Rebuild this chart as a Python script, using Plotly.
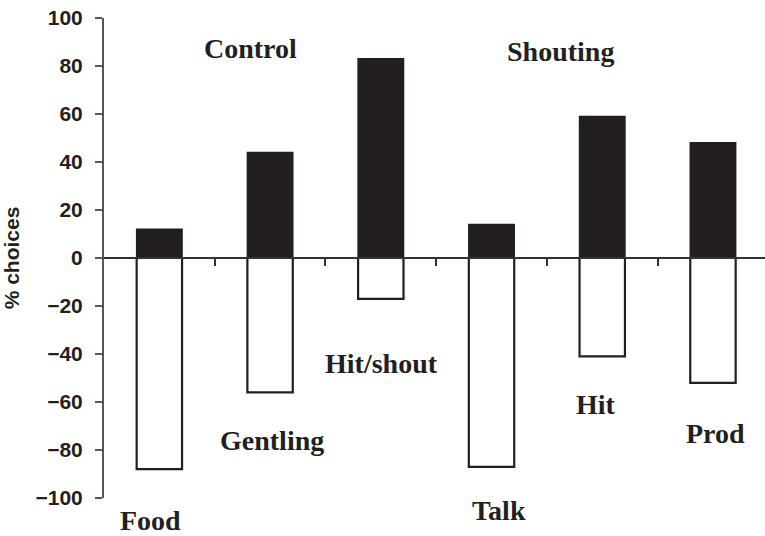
import plotly.graph_objects as go

categories = ["Food", "Gentling", "Hit/shout", "Talk", "Hit", "Prod"]
chosen = [12, 44, 83, 14, 59, 48]
not_chosen = [-88, -56, -17, -87, -41, -52]
group_labels = ["Control", "Shouting"]
y_ticks = [-100, -80, -60, -40, -20, 0, 20, 40, 60, 80, 100]

idx = list(range(len(categories)))

fig = go.Figure()
fig.add_trace(go.Bar(x=idx, y=chosen, width=0.41,
                     marker=dict(color="#231f20", line=dict(color="#231f20", width=1.5))))
fig.add_trace(go.Bar(x=idx, y=not_chosen, width=0.41,
                     marker=dict(color="white", line=dict(color="#231f20", width=2.2))))

serif = dict(family="Liberation Serif", size=28, color="#231f20")
# category label positions (data coords, extra pixel shift for those below the axis range)
cat_pos = [(-0.08, -100, -22), (1.02, -76, 0), (2.01, -44, 0), (3.07, -100, -12), (3.94, -61, 0), (5.02, -73, 0)]
for name, (px, py, ys) in zip(categories, cat_pos):
    fig.add_annotation(x=px, y=py, xref="x", yref="y", yshift=ys, text="<b>%s</b>" % name,
                       showarrow=False, font=serif)
grp_pos = [(0.82, 87.5), (3.62, 86)]
for name, (px, py) in zip(group_labels, grp_pos):
    fig.add_annotation(x=px, y=py, xref="x", yref="y", text="<b>%s</b>" % name,
                       showarrow=False, font=serif)

fig.update_layout(
    width=765, height=536,
    margin=dict(l=104, r=0, t=18, b=38, autoexpand=False),
    plot_bgcolor="white", paper_bgcolor="white",
    barmode="relative", showlegend=False,
    xaxis=dict(range=[-0.5, 5.47], anchor="free", position=0.5, automargin=False,
               showline=True, linecolor="#333", linewidth=2,
               tickmode="array", tickvals=[i + 0.5 for i in idx[:-1]],
               ticks="outside", ticklen=7, tickwidth=2, tickcolor="#333",
               showticklabels=False, showgrid=False, zeroline=False),
    yaxis=dict(range=[-100, 100], tickvals=y_ticks, automargin=False,
               ticktext=[("\u2212%d" % -v) if v < 0 else str(v) for v in y_ticks],
               showline=True, linecolor="#555", linewidth=2,
               ticks="outside", ticklen=7, tickwidth=2, tickcolor="#555",
               ticklabelstandoff=8,
               tickfont=dict(family="Liberation Sans", size=21, color="#231f20", weight="bold"),
               showgrid=False, zeroline=False,
               title=dict(text="<b>% choices</b>", standoff=10,
                          font=dict(family="Liberation Sans", size=21, color="#231f20"))),
)

fig.write_html("out.html", config={"displayModeBar": False},
               post_script="document.body.style.margin='0';document.body.style.overflow='hidden';")
